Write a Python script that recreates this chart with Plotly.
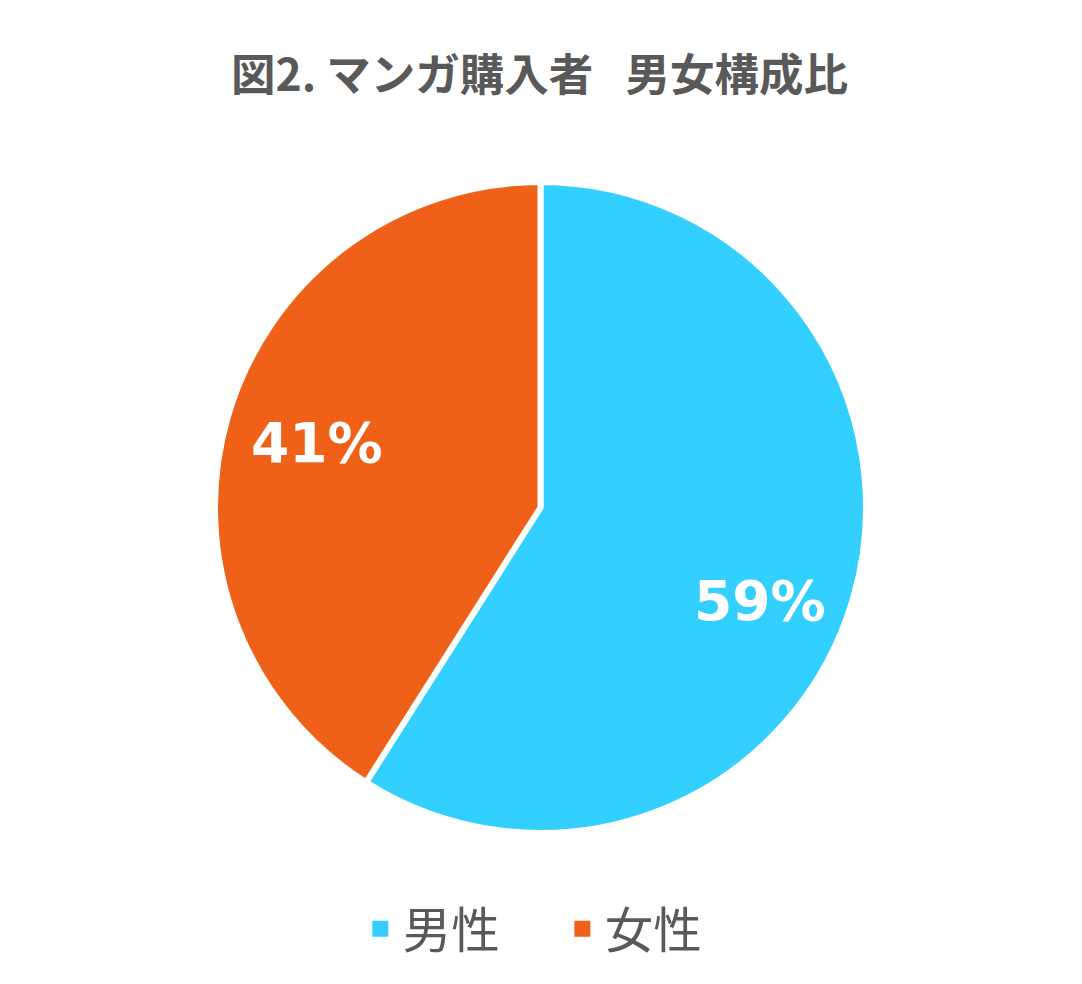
import math
import plotly.graph_objects as go

labels = ["男性", "女性"]
values = [59, 41]
colors = ["#33D0FF", "#EF6119"]
title_text = "図2. マンガ購入者\u2002 男女構成比"

# layout geometry (figure pixels)
FIG_W, FIG_H = 1082, 984
M_L, M_R, M_T, M_B = 207, 224, 174, 159
PLOT_W = FIG_W - M_L - M_R
PLOT_H = FIG_H - M_T - M_B
label_radius = [0.732, 0.715]
label_angle_nudge = [-6.8, 0.0]

fig = go.Figure()
fig.add_trace(go.Pie(
    labels=labels,
    values=values,
    sort=False,
    direction="clockwise",
    rotation=0,
    marker=dict(colors=colors, line=dict(color="white", width=6)),
    textinfo="none",
    hoverinfo="label+percent",
    showlegend=False,
))

# legend entries (square swatches)
for lab, col in zip(labels, colors):
    fig.add_trace(go.Scatter(
        x=[None], y=[None], mode="markers", name=lab,
        marker=dict(symbol="square", size=20, color=col, line=dict(width=0)),
        showlegend=True, hoverinfo="skip",
    ))

# percentage labels placed from slice angles
total = sum(values)
cum = 0.0
R = min(PLOT_W, PLOT_H) / 2
annotations = []
for i, v in enumerate(values):
    mid_frac = (cum + v / 2) / total
    cum += v
    ang = math.radians(90 - 360 * mid_frac + label_angle_nudge[i])
    dx = label_radius[i] * R * math.cos(ang)
    dy = label_radius[i] * R * math.sin(ang)
    annotations.append(dict(
        x=0.5 + dx / PLOT_W, y=0.5 + dy / PLOT_H, xref="paper", yref="paper",
        text=f"{round(100 * v / total)}%", showarrow=False,
        xanchor="center", yanchor="middle", yshift=0,
        font=dict(family="DejaVu Sans", size=55, color="white", weight="bold"),
    ))

fig.update_layout(
    width=FIG_W, height=FIG_H,
    paper_bgcolor="white", plot_bgcolor="white",
    margin=dict(l=M_L, r=M_R, t=M_T, b=M_B),
    xaxis=dict(visible=False), yaxis=dict(visible=False),
    title=dict(text=title_text, x=531.5 / FIG_W, xanchor="center", y=1 - 67 / FIG_H, yanchor="middle",
               font=dict(family="Noto Sans CJK JP", size=44.5, color="#595959", weight="bold")),
    showlegend=True,
    legend=dict(orientation="h", x=0.5297, xanchor="center", y=-0.148, yanchor="middle",
                font=dict(family="Noto Sans CJK JP", size=48.5, color="#595959"),
                entrywidth=152, itemwidth=35, itemclick=False),
    annotations=annotations,
)

fig.write_html("out.html")
